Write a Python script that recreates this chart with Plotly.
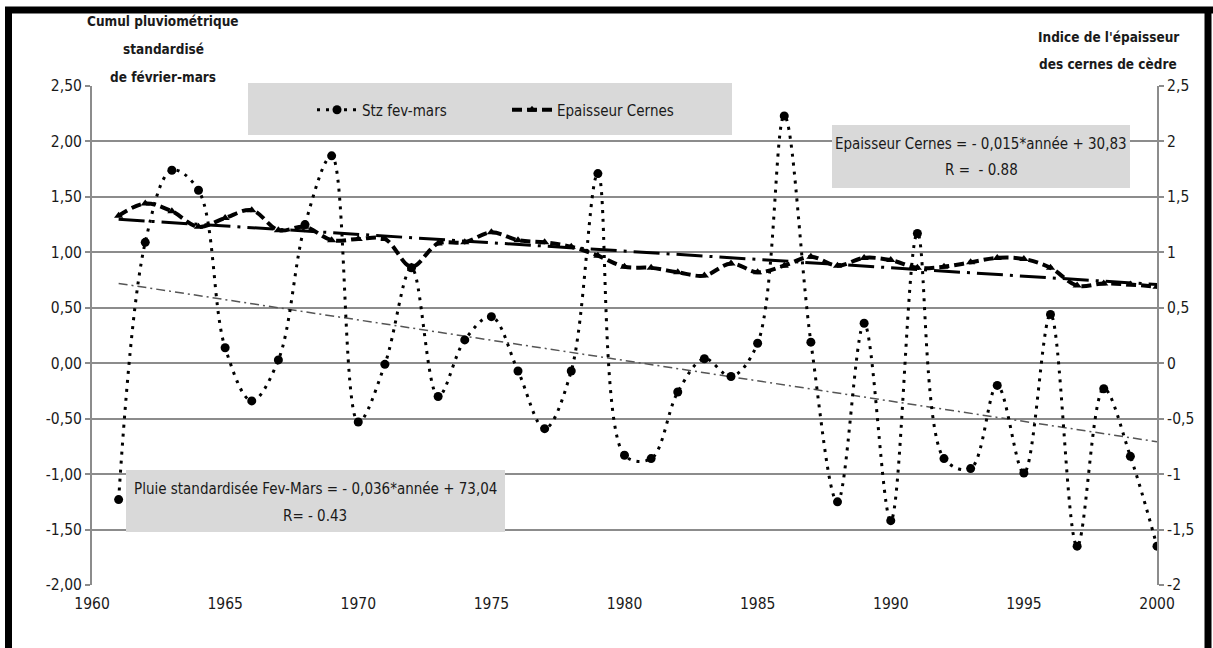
import plotly.graph_objects as go
import numpy as np

years = list(range(1961, 2001))
stz_fev_mars = [-1.23, 1.09, 1.74, 1.56, 0.14, -0.34, 0.03, 1.25, 1.87, -0.53,
                -0.01, 0.86, -0.30, 0.21, 0.42, -0.07, -0.59, -0.07, 1.71, -0.83,
                -0.86, -0.26, 0.04, -0.12, 0.18, 2.23, 0.19, -1.25, 0.36, -1.42,
                1.17, -0.86, -0.95, -0.20, -0.99, 0.44, -1.65, -0.23, -0.84, -1.65]
epaisseur_cernes = [1.33, 1.44, 1.37, 1.23, 1.31, 1.38, 1.20, 1.23, 1.11, 1.12,
                    1.12, 0.87, 1.08, 1.09, 1.18, 1.11, 1.09, 1.05, 0.97, 0.87,
                    0.86, 0.82, 0.79, 0.90, 0.82, 0.88, 0.96, 0.88, 0.95, 0.93,
                    0.86, 0.87, 0.91, 0.95, 0.94, 0.86, 0.70, 0.72, 0.71, 0.69]

y_ticks = [-2, -1.5, -1, -0.5, 0, 0.5, 1, 1.5, 2, 2.5]
y_left_text = ["-2,00", "-1,50", "-1,00", "-0,50", "0,00", "0,50", "1,00", "1,50", "2,00", "2,50"]
y_right_text = ["-2", "-1,5", "-1", "-0,5", "0", "0,5", "1", "1,5", "2", "2,5"]
x_ticks = [1960, 1965, 1970, 1975, 1980, 1985, 1990, 1995, 2000]

# linear trends (as Excel trendlines)
yr = np.array(years, dtype=float)
p_rain = np.polyfit(yr, np.array(stz_fev_mars), 1)
p_ep = np.polyfit(yr, np.array(epaisseur_cernes), 1)
trend_years = [years[0], years[-1]]
rain_trend = list(np.polyval(p_rain, trend_years))
ep_trend = list(np.polyval(p_ep, trend_years))

FONT = "Liberation Sans Narrow, DejaVu Sans Condensed, Arial Narrow, sans-serif"
TXT = "#1a1a1a"
GRID = "#8c8c8c"

fig = go.Figure()

fig.add_trace(go.Scatter(
    x=trend_years, y=rain_trend, mode="lines", showlegend=False,
    line=dict(color="#555555", width=1.5, dash="9px,4px,2px,4px"), hoverinfo="skip"))
fig.add_trace(go.Scatter(
    x=trend_years, y=ep_trend, mode="lines", showlegend=False, yaxis="y2",
    line=dict(color="black", width=3, dash="26px,7px,3px,7px"), hoverinfo="skip"))

fig.add_trace(go.Scatter(
    x=years, y=stz_fev_mars, name="Stz fev-mars", mode="lines+markers",
    line=dict(color="black", width=3, dash="3px,6px", shape="spline", smoothing=1),
    marker=dict(symbol="circle", size=9, color="black")))
fig.add_trace(go.Scatter(
    x=years, y=epaisseur_cernes, name="Epaisseur Cernes", mode="lines+markers", yaxis="y2",
    line=dict(color="black", width=4, dash="10px,5px", shape="spline", smoothing=1),
    marker=dict(symbol="triangle-up", size=8, color="black")))

L, R, T, B = 92, 56, 86, 63
W, H = 1213, 648
PW, PH = W - L - R, H - T - B


def px(x):
    return (x - L) / PW


def py(y):
    return (H - B - y) / PH


shapes = [
    # grey boxes
    dict(type="rect", xref="paper", yref="paper", x0=px(248), x1=px(732), y0=py(135), y1=py(83),
         fillcolor="#d9d9d9", line=dict(width=0), layer="above"),
    dict(type="rect", xref="paper", yref="paper", x0=px(832), x1=px(1130), y0=py(188), y1=py(125),
         fillcolor="#d9d9d9", line=dict(width=0), layer="above"),
    dict(type="rect", xref="paper", yref="paper", x0=px(126), x1=px(505), y0=py(532), y1=py(470),
         fillcolor="#d9d9d9", line=dict(width=0), layer="above"),
    # black frame
    dict(type="line", xref="paper", yref="paper", x0=px(5), x1=px(1213), y0=py(10), y1=py(10),
         line=dict(color="black", width=7)),
    dict(type="line", xref="paper", yref="paper", x0=px(8.5), x1=px(8.5), y0=py(7), y1=py(648),
         line=dict(color="black", width=7)),
    dict(type="line", xref="paper", yref="paper", x0=px(1208), x1=px(1208), y0=py(7), y1=py(648),
         line=dict(color="black", width=7)),
]

annotations = []
for txt, yy in [("Cumul pluviométrique", 21), ("standardisé", 49), ("de février-mars", 77)]:
    annotations.append(dict(text=txt, xref="paper", yref="paper", x=px(163), y=py(yy),
                            showarrow=False, xanchor="center", yanchor="middle",
                            font=dict(family=FONT, size=13.5, color=TXT, weight="bold")))
for txt, yy in [("Indice de l'épaisseur", 37), ("des cernes de cèdre", 64)]:
    annotations.append(dict(text=txt, xref="paper", yref="paper", x=px(1108), y=py(yy),
                            showarrow=False, xanchor="center", yanchor="middle",
                            font=dict(family=FONT, size=13.5, color=TXT, weight="bold")))
annotations.append(dict(text="Epaisseur Cernes = - 0,015*année + 30,83", xref="paper", yref="paper",
                        x=px(981), y=py(144), showarrow=False, xanchor="center", yanchor="middle",
                        font=dict(family=FONT, size=15, color=TXT)))
annotations.append(dict(text="R =  - 0.88", xref="paper", yref="paper",
                        x=px(981), y=py(170), showarrow=False, xanchor="center", yanchor="middle",
                        font=dict(family=FONT, size=15, color=TXT)))
annotations.append(dict(text="Pluie standardisée Fev-Mars = - 0,036*année + 73,04", xref="paper", yref="paper",
                        x=px(315), y=py(489), showarrow=False, xanchor="center", yanchor="middle",
                        font=dict(family=FONT, size=15, color=TXT)))
annotations.append(dict(text="R= - 0.43", xref="paper", yref="paper",
                        x=px(315), y=py(516), showarrow=False, xanchor="center", yanchor="middle",
                        font=dict(family=FONT, size=15, color=TXT)))

fig.update_layout(
    width=W, height=H,
    margin=dict(l=L, r=R, t=T, b=B),
    paper_bgcolor="white", plot_bgcolor="white",
    font=dict(family=FONT, size=15, color=TXT),
    showlegend=True,
    legend=dict(orientation="h", x=px(312), y=py(110), xanchor="left", yanchor="middle",
                bgcolor="rgba(0,0,0,0)", font=dict(family=FONT, size=15, color=TXT),
                entrywidth=140, itemwidth=40),
    xaxis=dict(range=[1960, 2000], tickvals=x_ticks, ticktext=[str(v) for v in x_ticks],
               showgrid=False, zeroline=False, showline=False, ticks="",
               tickfont=dict(family=FONT, size=15.5, color=TXT), ticklabelstandoff=7),
    yaxis=dict(range=[-2, 2.5], tickvals=y_ticks, ticktext=y_left_text,
               showgrid=True, gridcolor=GRID, gridwidth=2, zeroline=False,
               showline=True, linecolor=GRID, linewidth=2, ticks="outside", ticklen=5,
               tickcolor=GRID, tickwidth=2,
               tickfont=dict(family=FONT, size=15.5, color=TXT)),
    yaxis2=dict(range=[-2, 2.5], tickvals=y_ticks, ticktext=y_right_text, overlaying="y", side="right",
                showgrid=False, zeroline=False, showline=True, linecolor=GRID, linewidth=2,
                ticks="outside", ticklen=5, tickcolor=GRID, tickwidth=2,
                tickfont=dict(family=FONT, size=15.5, color=TXT)),
    shapes=shapes,
    annotations=annotations,
)

fig.write_html("out.html", config={"displayModeBar": False},
               post_script="document.body.style.margin='0';document.body.style.overflow='hidden';")
